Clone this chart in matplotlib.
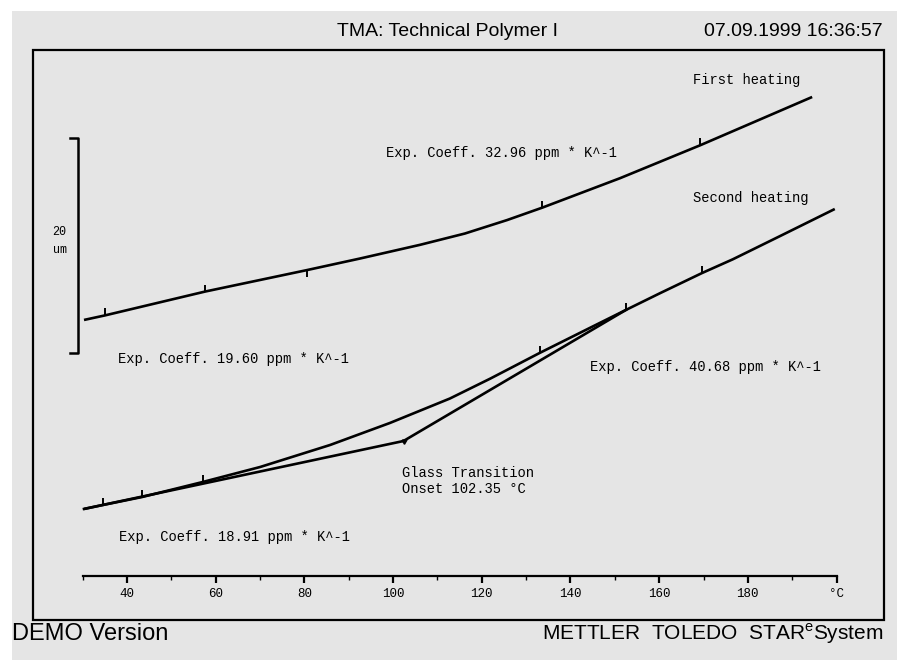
import numpy as np
import matplotlib
matplotlib.use("Agg")
import matplotlib.pyplot as plt
from matplotlib.patches import Rectangle

plt.rcParams['mathtext.fontset'] = 'custom'
plt.rcParams['mathtext.rm'] = 'Liberation Sans'

# Curvas TMA (temperatura em °C, deslocamento em um)
temp_first = [30.3, 35.0, 57.6, 80.6, 92.5, 106.1, 116.2, 125.7, 133.6, 151.2, 169.2, 182.7, 194.5]
disp_first = [27.91, 28.33, 30.55, 32.55, 33.62, 34.90, 35.95, 37.20, 38.35, 41.10, 44.15, 46.55, 48.65]

temp_second = [30.3, 34.6, 43.4, 57.1, 70.0, 85.8, 99.3, 112.8, 121.9, 133.1, 146.7,
               152.5, 160.2, 169.7, 176.6, 187.2, 199.6]
disp_second = [10.33, 10.70, 11.44, 12.84, 14.23, 16.28, 18.33, 20.60, 22.45, 24.85, 27.65,
               28.84, 30.40, 32.28, 33.55, 35.70, 38.23]

# Limites de avaliacao marcados sobre as curvas
marks_first = [35.0, 57.6, 80.6, 133.6, 169.2]
marks_second = [34.6, 43.4, 57.1, 133.1, 152.5, 169.7]

# Construcao das tangentes da transicao vitrea
onset_temp = 102.35
onset_disp = 16.65
tangent_low = ([30.3, onset_temp], [10.33, onset_disp])
tangent_high = ([onset_temp, 152.5], [onset_disp, 28.84])

x_ticks = [40, 60, 80, 100, 120, 140, 160, 180, 200]
x_tick_labels = ['40', '60', '80', '100', '120', '140', '160', '180', '°C']
x_minor = [30, 50, 70, 90, 110, 130, 150, 170, 190]

W, H = 897, 660
mono = 'Liberation Mono'
sans = 'Liberation Sans'


def fx(x):
    return x / W


def fy(y):
    return 1 - y / H


fig = plt.figure(figsize=(W / 100, H / 100), dpi=100)
fig.patch.set_facecolor('white')
fig.patches.append(Rectangle((fx(12), 0), 1 - fx(12), fy(11), transform=fig.transFigure,
                             facecolor='#e5e5e5', edgecolor='none', zorder=-2))
fig.patches.append(Rectangle((fx(33), fy(620)), fx(884 - 33), (620 - 50) / H,
                             transform=fig.transFigure, facecolor='none',
                             edgecolor='black', lw=1.6, zorder=-1))

ax = fig.add_axes([fx(33), fy(620), fx(884 - 33), (620 - 50) / H])
ax.set_facecolor('none')
ax.set_xlim(18.8, 210.7)
ax.set_ylim(0, 53.02)

for s in ['top', 'left', 'right']:
    ax.spines[s].set_visible(False)
ax.spines['bottom'].set_position(('data', 4.1))
ax.spines['bottom'].set_bounds(30, 200)
ax.spines['bottom'].set_linewidth(1.6)
ax.set_yticks([])
ax.set_xticks(x_ticks)
ax.set_xticklabels(x_tick_labels, fontfamily=mono, fontsize=9)
ax.set_xticks(x_minor, minor=True)
ax.tick_params(axis='x', which='major', length=5, width=1.6, pad=4)
ax.tick_params(axis='x', which='minor', length=3, width=1.0)

lw = 1.9
ax.plot(temp_first, disp_first, color='black', lw=lw, solid_capstyle='butt')
ax.plot(temp_second, disp_second, color='black', lw=lw, solid_capstyle='butt')
ax.plot(*tangent_low, color='black', lw=lw)
ax.plot(*tangent_high, color='black', lw=lw)

mk_dir_first = [2, 2, 3, 2, 2]
for t, m in zip(marks_first, mk_dir_first):
    ax.plot([t], [np.interp(t, temp_first, disp_first)], marker=m, color='black',
            markersize=5, mew=1.4)
for t in marks_second:
    ax.plot([t], [np.interp(t, temp_second, disp_second)], marker=2, color='black',
            markersize=5, mew=1.4)
ax.plot([onset_temp], [onset_disp], marker=(3, 0, -60), color='black', markersize=4)

# Barra de escala de 20 um
bar_x, bar_bottom, bar_len = 28.95, 24.84, 20.0
ax.plot([27.15, bar_x, bar_x, 27.15], [bar_bottom, bar_bottom, bar_bottom + bar_len,
        bar_bottom + bar_len], color='black', lw=1.8, clip_on=False)
ax.text(24.78, 36.09, '20', fontfamily=mono, fontsize=8.5, ha='center', va='center')
ax.text(24.78, 34.42, 'um', fontfamily=mono, fontsize=8.5, ha='center', va='center')

fs = 9.9
ax.text(167.6, 50.23, 'First heating', fontfamily=mono, fontsize=fs, va='center')
ax.text(98.4, 43.44, 'Exp. Coeff. 32.96 ppm * K^-1', fontfamily=mono, fontsize=fs, va='center')
ax.text(167.6, 39.26, 'Second heating', fontfamily=mono, fontsize=fs, va='center')
ax.text(38.0, 24.28, 'Exp. Coeff. 19.60 ppm * K^-1', fontfamily=mono, fontsize=fs, va='center')
ax.text(144.4, 23.53, 'Exp. Coeff. 40.68 ppm * K^-1', fontfamily=mono, fontsize=fs, va='center')
ax.text(102.0, 12.93, 'Glass Transition\nOnset 102.35 °C', fontfamily=mono, fontsize=fs,
        va='center', linespacing=1.1)
ax.text(38.2, 7.72, 'Exp. Coeff. 18.91 ppm * K^-1', fontfamily=mono, fontsize=fs, va='center')

# Cabecalho e rodape
fig.text(fx(337), fy(32), 'TMA: Technical Polymer I', fontfamily=sans, fontsize=14, va='center')
fig.text(fx(883), fy(32), '07.09.1999 16:36:57', fontfamily=sans, fontsize=14,
         va='center', ha='right')
fig.text(fx(12), fy(634), 'DEMO Version', fontfamily=sans, fontsize=17, va='center')
fig.text(fx(883), fy(634), r'METTLER  TOLEDO  STAR$^{\mathrm{e}}$System', fontfamily=sans,
         fontsize=15, va='center', ha='right')

fig.savefig('out.png', dpi=100)
plt.close(fig)
